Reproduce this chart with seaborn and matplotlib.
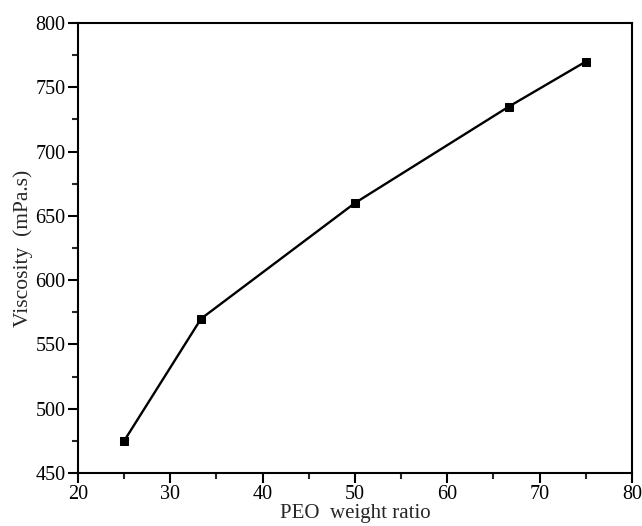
import matplotlib
matplotlib.use("Agg")
import matplotlib.pyplot as plt
from matplotlib.ticker import MultipleLocator
import seaborn as sns
import pandas as pd

peo_ratio = [25, 33.33, 50, 66.67, 75]
viscosity = [475, 570, 660, 735, 770]

sns.set_style("ticks")
plt.rcParams['font.family'] = ['Liberation Serif', 'DejaVu Serif']

df = pd.DataFrame({'ratio': peo_ratio, 'visc': viscosity})

fig = plt.figure(figsize=(6.42, 5.26), dpi=100)
ax = fig.add_axes([0.1215, 0.1008, 0.8629, 0.8555])

sns.lineplot(data=df, x='ratio', y='visc', ax=ax, color='black',
             marker='s', markersize=6, markeredgecolor='black',
             linewidth=1.7, sort=False)

ax.set_xlim(20, 80)
ax.set_ylim(450, 800)
ax.xaxis.set_major_locator(MultipleLocator(10))
ax.xaxis.set_minor_locator(MultipleLocator(5))
ax.yaxis.set_major_locator(MultipleLocator(50))
ax.yaxis.set_minor_locator(MultipleLocator(25))

for s in ax.spines.values():
    s.set_linewidth(1.5)
    s.set_color('black')
ax.tick_params(which='major', direction='out', length=7, width=1.5,
               labelsize=14.5, colors='black', top=False, right=False, pad=2)
ax.tick_params(which='minor', direction='out', length=4.5, width=1.5,
               top=False, right=False)

ax.set_xlabel('PEO  weight ratio', fontsize=15, labelpad=0)
ax.set_ylabel('Viscosity  (mPa.s)', fontsize=15.5, labelpad=2)

fig.savefig('out.png', dpi=100)
